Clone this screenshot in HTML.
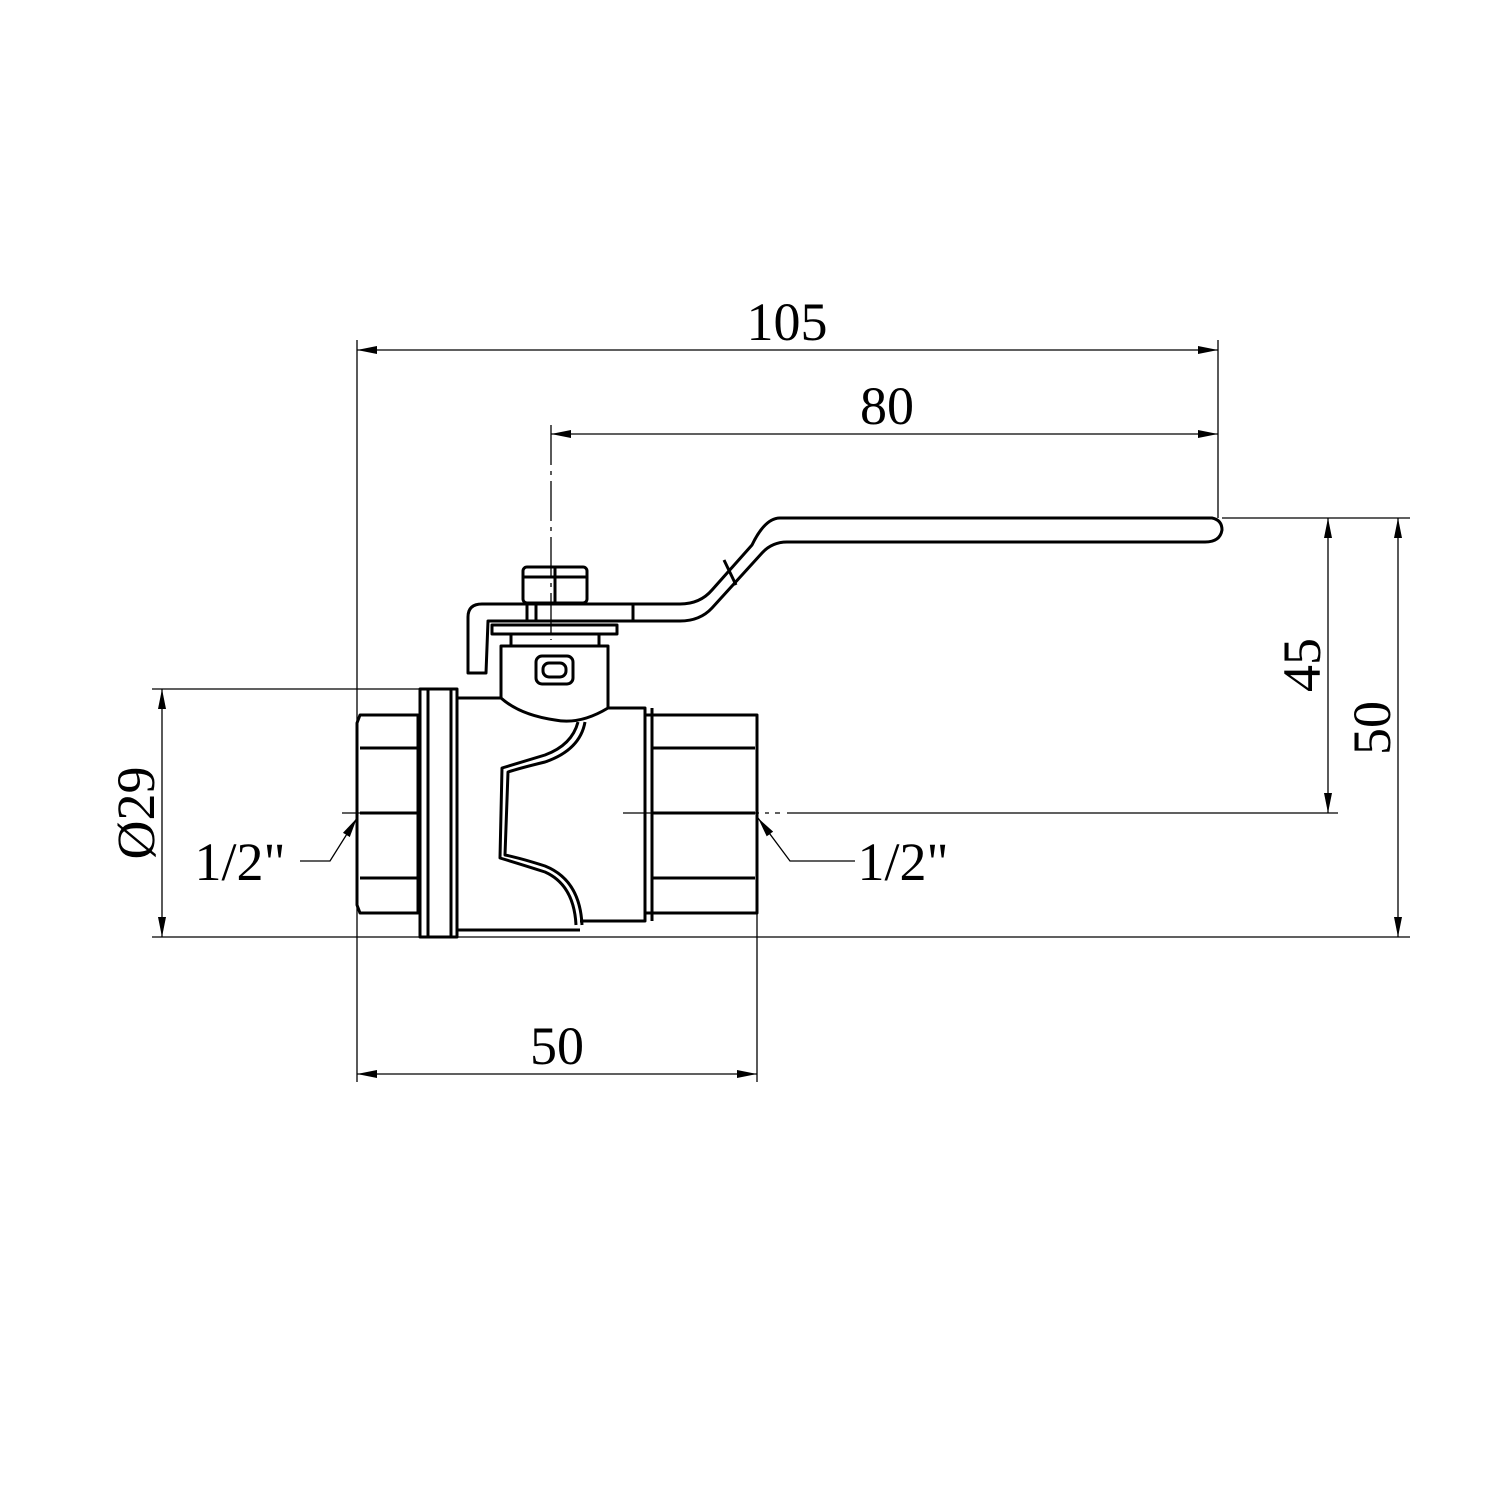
<!DOCTYPE html>
<html><head><meta charset="utf-8"><style>html,body{margin:0;padding:0;background:#fff}svg{display:block}</style></head>
<body>
<svg width="1500" height="1500" viewBox="0 0 1500 1500" xmlns="http://www.w3.org/2000/svg" font-family="Liberation Serif, serif">
<defs>
<marker id="a" viewBox="0 0 20 8" refX="20" refY="4" markerWidth="20" markerHeight="8" orient="auto-start-reverse" markerUnits="userSpaceOnUse"><path d="M0,0 L20,4 L0,8 z" fill="#000"/></marker>
</defs>
<g stroke="#000" stroke-width="1.3" fill="none">
<line x1="357" y1="340" x2="357" y2="1082"/>
<line x1="1218" y1="340" x2="1218" y2="518"/>
<line x1="551" y1="425" x2="551" y2="640" stroke-dasharray="40,6,4,6"/>
<line x1="757" y1="913" x2="757" y2="1082"/>
<line x1="152" y1="689" x2="420" y2="689"/>
<line x1="152" y1="937" x2="1410" y2="937"/>
<line x1="1222" y1="518" x2="1410" y2="518"/>
<line x1="787" y1="813" x2="1338" y2="813"/>
<line x1="342" y1="813" x2="420" y2="813"/>
<line x1="623" y1="813" x2="780" y2="813" stroke-dasharray="60,6,4,6"/>
<line x1="357" y1="350" x2="1218" y2="350" marker-start="url(#a)" marker-end="url(#a)"/>
<line x1="551" y1="434" x2="1218" y2="434" marker-start="url(#a)" marker-end="url(#a)"/>
<line x1="357" y1="1074" x2="757" y2="1074" marker-start="url(#a)" marker-end="url(#a)"/>
<line x1="162" y1="689" x2="162" y2="937" marker-start="url(#a)" marker-end="url(#a)"/>
<line x1="1328" y1="518" x2="1328" y2="813" marker-start="url(#a)" marker-end="url(#a)"/>
<line x1="1398" y1="518" x2="1398" y2="937" marker-start="url(#a)" marker-end="url(#a)"/>
<polyline points="300,861 330,861 357,818" marker-end="url(#a)"/>
<polyline points="855,861 790,861 758,818" marker-end="url(#a)"/>
</g>
<g stroke="#000" stroke-width="3" fill="none" stroke-linejoin="round">
<path d="M360,715 L418,715 L418,913 L360,913 L357,905 L357,723 Z"/>
<line x1="360" y1="748" x2="418" y2="748"/><line x1="360" y1="813" x2="418" y2="813"/><line x1="360" y1="878" x2="418" y2="878"/>
<rect x="420" y="689" width="37" height="248"/>
<line x1="428" y1="689" x2="428" y2="937"/><line x1="451" y1="690" x2="451" y2="936"/>
<path d="M457,698 L501,698 M608,708 L645,708 L645,921 L580,921 M580,930 L457,930"/>
<path d="M457,698 L457,930"/>
<rect x="645" y="715" width="112" height="198"/>
<line x1="652" y1="708" x2="652" y2="921"/>
<line x1="652" y1="748" x2="755" y2="748"/><line x1="652" y1="813" x2="755" y2="813"/><line x1="652" y1="878" x2="755" y2="878"/>
<path d="M501,698 L501,646 L608,646 L608,708 Q580,725 555,720 Q520,715 501,698"/>
<rect x="536" y="656" width="37" height="28" rx="6"/>
<rect x="543" y="663" width="23" height="14" rx="6"/>
<path d="M585,722 Q580,750 545,762 Q520,768 508,772 L505,855 Q520,858 545,866 Q580,880 582,925"/>
<path d="M578,722 Q572,745 545,755 Q515,764 502,768 L500,858 Q520,864 545,872 Q574,885 576,925"/>
<rect x="492" y="625" width="125" height="9"/>
<line x1="511" y1="634" x2="511" y2="646"/><line x1="599" y1="634" x2="599" y2="646"/>
<rect x="523" y="567" width="64" height="36" rx="4"/>
<line x1="523" y1="577" x2="587" y2="577"/><line x1="555" y1="567" x2="555" y2="603"/>
<line x1="527" y1="603" x2="527" y2="621"/><line x1="536" y1="603" x2="536" y2="621"/>
<path d="M468,673 L468,617 Q468,604 482,604 L680,604 Q700,604 712,590 L752,545 Q765,518 780,518 L1212,518 Q1222,520 1222,530 Q1220,542 1205,542 L787,542 Q772,542 762,553 L712,608 Q700,621 680,621 L488,621 L486,673 Z"/>
<line x1="633" y1="604" x2="633" y2="621"/>
<line x1="724" y1="560" x2="736" y2="585"/>
</g>
<g font-size="54" fill="#000" text-anchor="middle">
<text x="787" y="340">105</text>
<text x="887" y="424">80</text>
<text x="557" y="1064">50</text>
<text x="240" y="880">1/2"</text>
<text x="903" y="880">1/2"</text>
<text transform="translate(154,813) rotate(-90)">Ø29</text>
<text transform="translate(1320,665) rotate(-90)">45</text>
<text transform="translate(1390,728) rotate(-90)">50</text>
</g>
</svg>
</body></html>
